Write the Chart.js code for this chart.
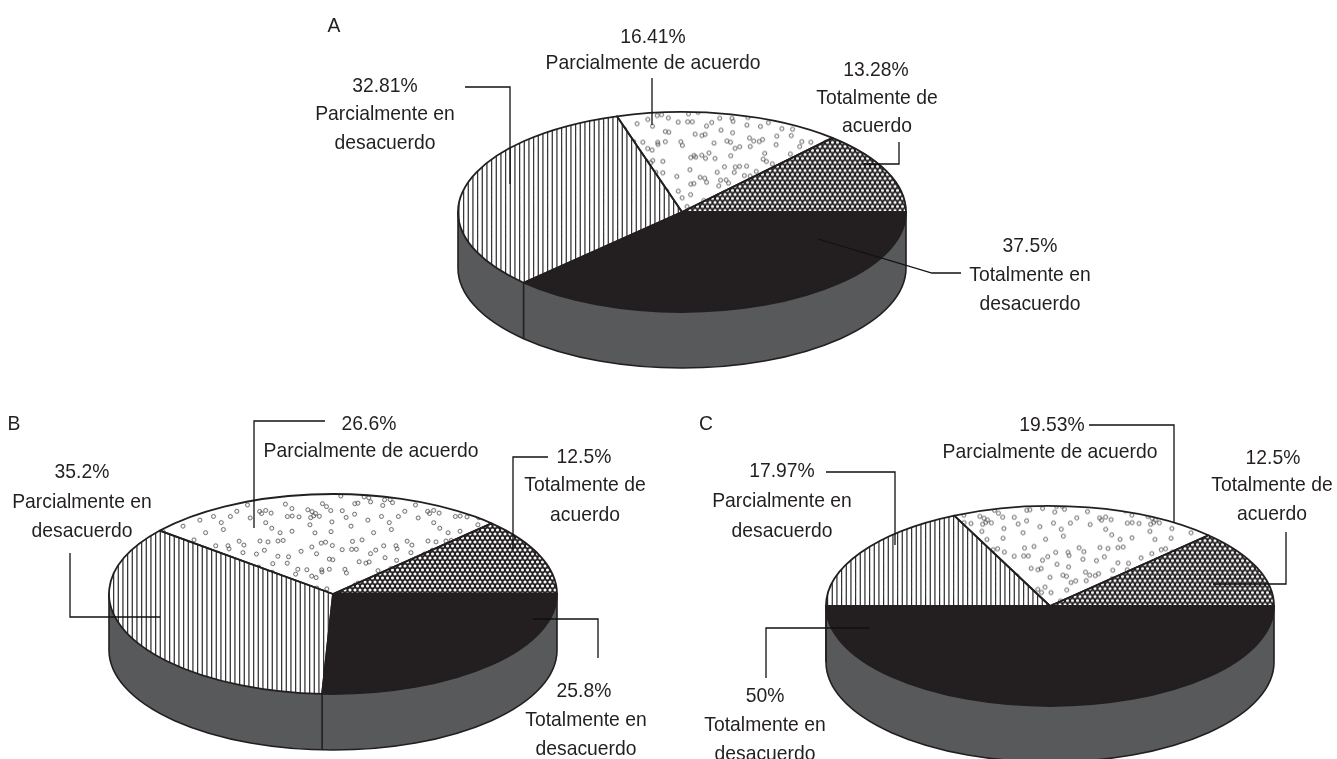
<!DOCTYPE html>
<html lang="es">
<head>
<meta charset="utf-8">
<title>Gráficos A, B y C</title>
<script src="https://cdn.jsdelivr.net/npm/chart.js@4"></script>
<style>
    html, body { margin: 0; padding: 0; background: #fff; }
    body { position: relative; width: 1337px; height: 759px; overflow: hidden; }
    canvas { position: absolute; left: 0; top: -20px; }
    .lbl {
        position: absolute; transform: translate(-50%, calc(-50% - 1px)) scaleX(0.92); white-space: nowrap;
        font-family: "Liberation Sans", Arial, sans-serif; font-size: 21px; color: #231f20;
        line-height: 1;
    }
</style>
</head>
<body>
<canvas id="chartA"></canvas>
<canvas id="chartB"></canvas>
<canvas id="chartC"></canvas>
<script>
const categories = ['Totalmente en desacuerdo', 'Parcialmente en desacuerdo', 'Parcialmente de acuerdo', 'Totalmente de acuerdo'];
const categoryLines = [['Totalmente en', 'desacuerdo'], ['Parcialmente en', 'desacuerdo'], ['Parcialmente de acuerdo'], ['Totalmente de', 'acuerdo']];
const valuesA = [37.5, 32.81, 16.41, 13.28];
const valuesB = [25.8, 35.2, 26.6, 12.5];
const valuesC = [50, 17.97, 19.53, 12.5];

// Layout of the three panels (page pixels)
const RADIUS = 224;
const SQUASH = 100 / 224;
const DEPTH = 56;
const CANVAS_W = 1337, CANVAS_H = 860, CANVAS_TOP = 20;
const DARK = '#231f20', WALL = '#58595b';

// each label: [x, y] of the value line, then of every text line
const panels = [
    {
        id: 'chartA', letter: 'A', letterPos: [334, 25], values: valuesA, cx: 682, cy: 212,
        labelPos: [
            [[1030, 245], [1030, 274], [1030, 303]],
            [[385, 85], [385, 113], [385, 142]],
            [[653, 36], [653, 62]],
            [[876, 69], [877, 97], [877, 125]]
        ],
        leaders: [
            [[818, 239], [932, 273], [961, 273]],
            [[465, 87], [510, 87], [510, 184]],
            [[652, 78], [652, 125]],
            [[899, 142], [899, 164], [863, 164]]
        ]
    },
    {
        id: 'chartB', letter: 'B', letterPos: [14, 423], values: valuesB, cx: 333, cy: 594,
        labelPos: [
            [[584, 690], [586, 719], [586, 748]],
            [[82, 471], [82, 501], [82, 530]],
            [[369, 423], [371, 450]],
            [[584, 456], [585, 484], [585, 514]]
        ],
        leaders: [
            [[533, 619], [598, 619], [598, 658]],
            [[70, 553], [70, 617], [160, 617]],
            [[325, 421], [254, 421], [254, 528]],
            [[548, 457], [513, 457], [513, 550]]
        ]
    },
    {
        id: 'chartC', letter: 'C', letterPos: [706, 423], values: valuesC, cx: 1050, cy: 606,
        labelPos: [
            [[765, 695], [765, 724], [765, 753]],
            [[782, 470], [782, 500], [782, 530]],
            [[1052, 424], [1050, 451]],
            [[1273, 457], [1272, 484], [1272, 513]]
        ],
        leaders: [
            [[870, 628], [766, 628], [766, 678]],
            [[826, 472], [895, 472], [895, 545]],
            [[1089, 425], [1174, 425], [1174, 522]],
            [[1286, 532], [1286, 584], [1213, 584]]
        ]
    }
];

function tile(w, h, draw) {
    const c = document.createElement('canvas');
    c.width = w;
    c.height = h;
    draw(c.getContext('2d'));
    const p = c.getContext('2d').createPattern(c, 'repeat');
    // the pie is drawn in a squashed context, undo that for the fill texture
    p.setTransform(new DOMMatrix().scale(1, 1 / SQUASH));
    return p;
}

function stripePattern() {
    return tile(14, 4, ctx => {
        ctx.fillStyle = '#fff';
        ctx.fillRect(0, 0, 14, 4);
        ctx.fillStyle = '#2a2a2a';
        [1, 5.67, 10.33].forEach(x => ctx.fillRect(x, 0, 1.2, 4));
    });
}

function dotPattern() {
    return tile(168, 108, ctx => {
        ctx.fillStyle = '#fff';
        ctx.fillRect(0, 0, 168, 108);
        ctx.strokeStyle = '#555';
        ctx.lineWidth = 0.9;
        let n = 1;
        const next = () => { const v = Math.sin(n++ * 12.9898) * 43758.5453; return v - Math.floor(v); };
        const dot = (x, y) => {
            if (x < 3 || y < 3 || x > 165 || y > 105) return;
            ctx.beginPath();
            ctx.arc(x, y, 2, 0, Math.PI * 2);
            ctx.stroke();
        };
        // jittered grid of small rings with some neighbours, a fixed texture
        for (let row = 0; row < 9; row++) {
            for (let col = 0; col < 14; col++) {
                const x = (col + next()) * 12;
                const y = (row + next()) * 12;
                dot(x, y);
                if (next() > 0.8) dot(x + 3 + 3 * next(), y + 5 * next() - 2);
            }
        }
    });
}

function hatchPattern() {
    return tile(10, 8, ctx => {
        ctx.fillStyle = DARK;
        ctx.fillRect(0, 0, 10, 8);
        ctx.fillStyle = '#fff';
        [[2.5, 2], [7.5, 2], [0, 6], [5, 6], [10, 6]].forEach(([x, y]) => {
            ctx.beginPath();
            ctx.arc(x, y, 1.55, 0, Math.PI * 2);
            ctx.fill();
        });
    });
}

// Squashes the pie into an ellipse and adds the wall, outlines and leader lines
const pie3d = {
    id: 'pie3d',
    beforeDatasetsDraw(chart) {
        const ctx = chart.ctx;
        const arcs = chart.getDatasetMeta(0).data;
        const { x, y, outerRadius: r } = arcs[0];
        const ry = r * SQUASH;

        ctx.save();
        ctx.beginPath();
        ctx.moveTo(x - r, y);
        ctx.lineTo(x - r, y + DEPTH);
        ctx.ellipse(x, y + DEPTH, r, ry, 0, Math.PI, 0, true);
        ctx.lineTo(x + r, y);
        ctx.closePath();
        ctx.fillStyle = WALL;
        ctx.fill();
        ctx.strokeStyle = DARK;
        ctx.lineWidth = 1.6;
        ctx.stroke();

        // edge where the dark slice ends
        const a = arcs[0].endAngle;
        const ex = x + r * Math.cos(a), ey = y + ry * Math.sin(a);
        ctx.beginPath();
        ctx.moveTo(ex, ey);
        ctx.lineTo(ex, ey + DEPTH);
        ctx.stroke();
        ctx.restore();

        ctx.save();
        ctx.translate(x, y);
        ctx.scale(1, SQUASH);
        ctx.translate(-x, -y);
    },
    afterDatasetsDraw(chart) {
        const ctx = chart.ctx;
        ctx.restore();

        chart.getDatasetMeta(0).data.forEach(arc => {
            const { x, y, outerRadius: r, startAngle, endAngle } = arc;
            ctx.save();
            ctx.save();
            ctx.translate(x, y);
            ctx.scale(1, SQUASH);
            ctx.beginPath();
            ctx.moveTo(0, 0);
            ctx.arc(0, 0, r, startAngle, endAngle);
            ctx.closePath();
            ctx.restore();
            ctx.strokeStyle = DARK;
            ctx.lineWidth = 1.8;
            ctx.lineJoin = 'round';
            ctx.stroke();
            ctx.restore();
        });

        const panel = chart.options.plugins.pie3d;
        ctx.save();
        ctx.translate(0, CANVAS_TOP);
        ctx.strokeStyle = '#111';
        ctx.lineWidth = 1.3;
        panel.leaders.forEach(path => {
            ctx.beginPath();
            path.forEach(([px, py], i) => (i ? ctx.lineTo(px, py) : ctx.moveTo(px, py)));
            ctx.stroke();
        });
        ctx.restore();
    }
};

function addLabel(text, pos) {
    const el = document.createElement('div');
    el.className = 'lbl';
    el.textContent = text;
    el.style.left = pos[0] + 'px';
    el.style.top = pos[1] + 'px';
    document.body.appendChild(el);
}

panels.forEach(panel => {
    const canvas = document.getElementById(panel.id);
    canvas.width = CANVAS_W;
    canvas.height = CANVAS_H;

    new Chart(canvas, {
        type: 'pie',
        data: {
            labels: categories,
            datasets: [{
                data: panel.values,
                backgroundColor: [DARK, stripePattern(), dotPattern(), hatchPattern()],
                borderWidth: 0,
                clip: false
            }]
        },
        options: {
            responsive: false,
            animation: false,
            devicePixelRatio: 1,
            rotation: 90,
            events: [],
            layout: {
                padding: {
                    left: panel.cx - RADIUS,
                    right: CANVAS_W - panel.cx - RADIUS,
                    top: panel.cy + CANVAS_TOP - RADIUS,
                    bottom: CANVAS_H - panel.cy - CANVAS_TOP - RADIUS
                }
            },
            plugins: {
                legend: { display: false },
                tooltip: { enabled: false },
                pie3d: { leaders: panel.leaders }
            }
        },
        plugins: [pie3d]
    });

    addLabel(panel.letter, panel.letterPos);
    panel.values.forEach((v, i) => {
        const texts = [v + '%', ...categoryLines[i]];
        texts.forEach((t, j) => addLabel(t, panel.labelPos[i][j]));
    });
});
</script>
</body>
</html>
